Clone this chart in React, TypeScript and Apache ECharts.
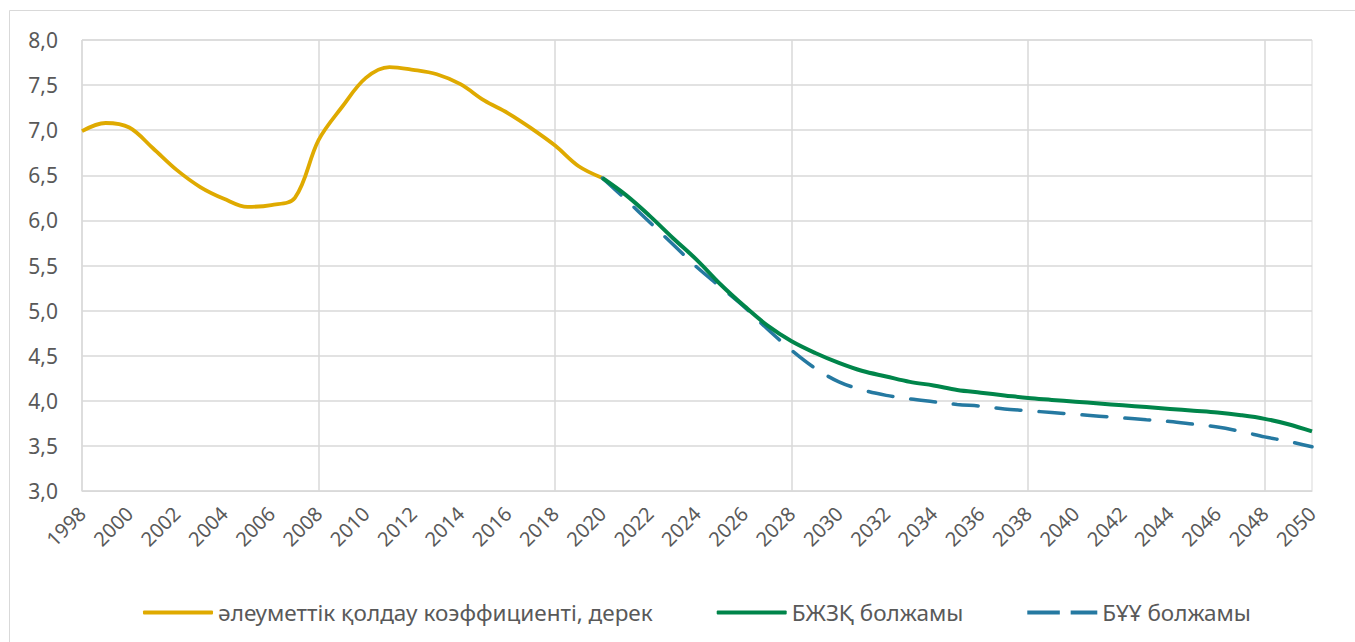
import React, { useEffect, useRef } from "react";
import * as echarts from "echarts";

const years = [
  "1998","1999","2000","2001","2002","2003","2004","2005","2006","2007",
  "2008","2009","2010","2011","2012","2013","2014","2015","2016","2017",
  "2018","2019","2020","2021","2022","2023","2024","2025","2026","2027",
  "2028","2029","2030","2031","2032","2033","2034","2035","2036","2037",
  "2038","2039","2040","2041","2042","2043","2044","2045","2046","2047",
  "2048","2049","2050",
];

// әлеуметтік қолдау коэффициенті, дерек (1998–2020)
const actual = [
  6.99, 7.08, 7.03, 6.80, 6.56, 6.37, 6.24, 6.15, 6.17, 6.25,
  6.89, 7.26, 7.58, 7.70, 7.67, 7.62, 7.51, 7.33, 7.19, 7.02,
  6.83, 6.60, 6.47,
];

// БЖЗҚ болжамы (2020–2050)
const forecastUapf = [
  6.47, 6.28, 6.05, 5.80, 5.56, 5.29, 5.05, 4.83, 4.66, 4.53,
  4.42, 4.33, 4.27, 4.21, 4.17, 4.12, 4.09, 4.06, 4.03, 4.01,
  3.99, 3.97, 3.95, 3.93, 3.91, 3.89, 3.87, 3.84, 3.80, 3.74,
  3.66,
];

// БҰҰ болжамы (2020–2050)
const forecastUn = [
  6.47, 6.23, 5.98, 5.73, 5.48, 5.26, 5.04, 4.79, 4.56, 4.36,
  4.21, 4.12, 4.06, 4.02, 3.99, 3.96, 3.94, 3.91, 3.89, 3.87,
  3.85, 3.83, 3.81, 3.79, 3.77, 3.74, 3.71, 3.66, 3.60, 3.55,
  3.49,
];

const seriesNames = [
  "әлеуметтік қолдау коэффициенті, дерек",
  "БЖЗҚ болжамы",
  "БҰҰ болжамы",
];

const forecastStart = years.indexOf("2020");

function pad(values: number[], start: number): (number | null)[] {
  const out: (number | null)[] = years.map(() => null);
  values.forEach((v, i) => {
    out[start + i] = v;
  });
  return out;
}

export default function App() {
  const ref = useRef<HTMLDivElement>(null);
  useEffect(() => {
    if (!ref.current) return;
    const chart = echarts.init(ref.current, null, { renderer: "svg" });
    const font = "'Noto Sans', 'Open Sans', sans-serif";
    chart.setOption({
      animation: false,
      backgroundColor: "#ffffff",
      textStyle: { fontFamily: font },
      graphic: [
        {
          type: "rect",
          shape: { x: 9.5, y: 10.5, width: 1400, height: 700 },
          style: { fill: "none", stroke: "#d9d9d9", lineWidth: 1 },
          silent: true,
          z: -10,
        },
      ],
      grid: {
        left: 82,
        right: 43,
        top: 40,
        bottom: 151,
        show: true,
        borderColor: "#d9d9d9",
        borderWidth: 1,
        containLabel: false,
      },
      legend: {
        top: 596,
        left: 138,
        itemWidth: 70,
        itemHeight: 4,
        itemGap: 64,
        textStyle: { fontSize: 22.5, color: "#595959", fontFamily: font },
        data: [
          { name: seriesNames[0], icon: "roundRect" },
          { name: seriesNames[1], icon: "roundRect" },
          { name: seriesNames[2], icon: "path://M0,0H33V4H0Z M44,0H71V4H44Z" },
        ],
      },
      xAxis: {
        type: "category",
        data: years,
        boundaryGap: false,
        axisLine: { show: true, lineStyle: { color: "#d9d9d9", width: 1 } },
        axisTick: { show: false },
        axisLabel: {
          interval: 1,
          rotate: 45,
          fontSize: 20,
          color: "#595959",
          margin: 19,
          fontFamily: font,
        },
        splitLine: {
          show: true,
          interval: (idx: number) => idx % 10 === 0,
          lineStyle: { color: "#d9d9d9", width: 1.5 },
        },
      },
      yAxis: {
        type: "value",
        min: 3,
        max: 8,
        interval: 0.5,
        axisLine: { show: false },
        axisTick: { show: false },
        axisLabel: {
          fontSize: 21,
          color: "#595959",
          margin: 24,
          fontFamily: font,
          formatter: (v: number) => v.toFixed(1).replace(".", ","),
        },
        splitLine: { show: true, lineStyle: { color: "#d9d9d9", width: 1.5 } },
      },
      series: [
        {
          name: seriesNames[0],
          type: "line",
          data: pad(actual, 0),
          smooth: 0.35,
          symbol: "none",
          connectNulls: false,
          lineStyle: { color: "#DFAA00", width: 3.8 },
          itemStyle: { color: "#DFAA00" },
          z: 3,
        },
        {
          name: seriesNames[2],
          type: "line",
          data: pad(forecastUn, forecastStart),
          smooth: 0.35,
          symbol: "none",
          lineStyle: { color: "#2579A1", width: 3.5, type: [25, 18], cap: "round" },
          itemStyle: { color: "#2579A1" },
          z: 4,
        },
        {
          name: seriesNames[1],
          type: "line",
          data: pad(forecastUapf, forecastStart),
          smooth: 0.35,
          symbol: "none",
          lineStyle: { color: "#00854A", width: 4 },
          itemStyle: { color: "#00854A" },
          z: 5,
        },
      ],
    });
    return () => chart.dispose();
  }, []);
  return (
    <div
      ref={ref}
      style={{ position: "fixed", left: 0, top: 0, width: 1355, height: 642 }}
    />
  );
}
